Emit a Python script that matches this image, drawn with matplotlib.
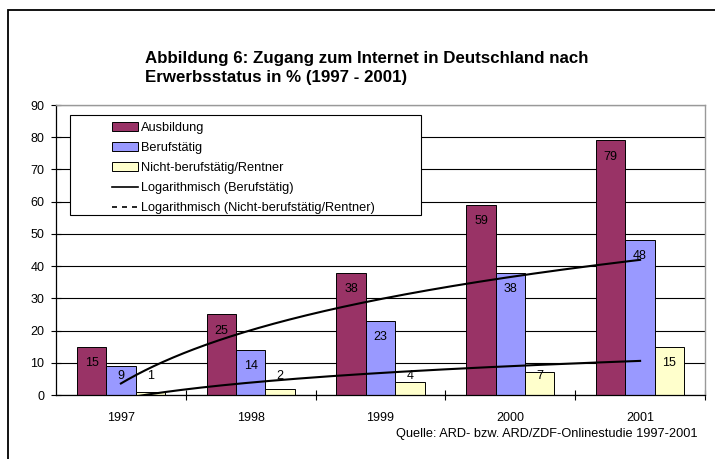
import numpy as np
import matplotlib
matplotlib.use("Agg")
import matplotlib.pyplot as plt
from matplotlib.patches import Rectangle, Patch
from matplotlib.lines import Line2D

plt.rcParams['font.family'] = ['Liberation Sans', 'DejaVu Sans']

years = ['1997', '1998', '1999', '2000', '2001']
ausbildung = [15, 25, 38, 59, 79]
berufstaetig = [9, 14, 23, 38, 48]
nicht_berufstaetig = [1, 2, 4, 7, 15]
series_names = ['Ausbildung', 'Berufstätig', 'Nicht-berufstätig/Rentner']
trend_names = ['Logarithmisch (Berufstätig)', 'Logarithmisch (Nicht-berufstätig/Rentner)']
yticks = list(range(0, 91, 10))
title = 'Abbildung 6: Zugang zum Internet in Deutschland nach\nErwerbsstatus in % (1997 - 2001)'
source = 'Quelle: ARD- bzw. ARD/ZDF-Onlinestudie 1997-2001'

colors = ['#993366', '#9999FF', '#FFFFCC']

W, H = 715, 459
fig = plt.figure(figsize=(W / 100, H / 100), dpi=100)
fig.patch.set_facecolor('white')

left, right, top, bottom = 56, 705, 105, 395
ax = fig.add_axes([left / W, 1 - bottom / H, (right - left) / W, (bottom - top) / H])

x = np.arange(len(years))
bw = 0.226
data = [ausbildung, berufstaetig, nicht_berufstaetig]
for i, (vals, c) in enumerate(zip(data, colors)):
    pos = x + (i - 1) * bw
    ax.bar(pos, vals, width=bw, color=c, edgecolor='black', linewidth=0.7, zorder=2)
    for p, v in zip(pos, vals):
        ly = max(v - 5, 6)
        ax.text(p, ly, str(v), ha='center', va='center', fontsize=9, zorder=4)

# logarithmic trendlines (Excel-style fit on category index 1..n)
idx = np.arange(1, len(years) + 1)
xs = np.linspace(1, len(years), 300)
for vals in (berufstaetig, nicht_berufstaetig):
    a, b = np.polyfit(np.log(idx), vals, 1)
    ax.plot(xs - 1, a * np.log(xs) + b, color='black', lw=1.5, zorder=3)

ax.set_xlim(-0.5, len(years) - 0.5)
ax.set_ylim(0, 90)
ax.set_yticks(yticks)
ax.set_yticklabels([str(t) for t in yticks], fontsize=9)
ax.set_xticks(x)
ax.set_xticklabels(years, fontsize=9)
ax.set_xticks(np.arange(0.5, len(years), 1), minor=True)
ax.tick_params(axis='x', which='major', length=0, pad=12)
ax.tick_params(axis='x', which='minor', length=7, direction='inout', width=0.8)
ax.tick_params(axis='y', length=7, direction='inout', width=0.8, pad=5)
ax.grid(axis='y', color='black', linewidth=0.8, zorder=1)
ax.set_axisbelow(True)
for s in ('top', 'right'):
    ax.spines[s].set_color('#999999')
    ax.spines[s].set_linewidth(1.0)
for s in ('left', 'bottom'):
    ax.spines[s].set_color('black')
    ax.spines[s].set_linewidth(0.9)

# legend box
fig.patches.append(Rectangle((70 / W, 1 - 215 / H), 351 / W, 100 / H, transform=fig.transFigure,
                             facecolor='white', edgecolor='black', linewidth=0.8, zorder=5))
handles = [Patch(facecolor=c, edgecolor='black', linewidth=0.7) for c in colors]
handles += [Line2D([], [], color='black', lw=1.2),
            Line2D([], [], color='black', lw=1.2, linestyle=(0, (3, 3)))]
leg = fig.legend(handles, series_names + trend_names, loc='upper left',
                 bbox_to_anchor=(112 / W, 1 - 122 / H), bbox_transform=fig.transFigure,
                 frameon=False, fontsize=9.2, borderpad=0, borderaxespad=0,
                 handlelength=2.0, handleheight=0.62, handletextpad=0.25, labelspacing=0.63)
leg.set_zorder(6)

# outer frame
fig.patches.append(Rectangle((8 / W, -0.2), 1.5, 0.2 + 1 - 10 / H, transform=fig.transFigure,
                             facecolor='none', edgecolor='black', linewidth=1.3, zorder=7))

fig.text(145 / W, 1 - 51 / H, title, ha='left', va='top', fontsize=12.2, fontweight='bold',
         linespacing=1.3)
fig.text(698 / W, 1 - 434 / H, source, ha='right', va='center', fontsize=9.2)

fig.savefig('out.png', dpi=100)
